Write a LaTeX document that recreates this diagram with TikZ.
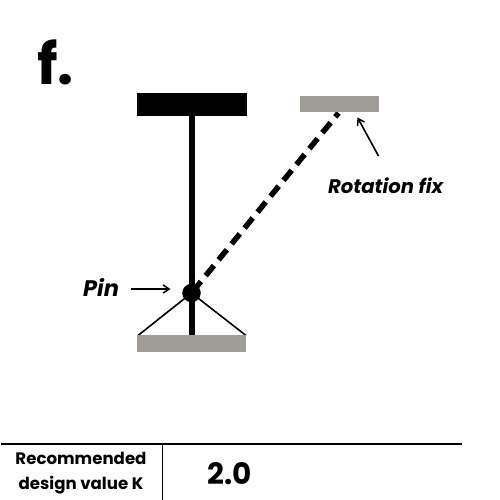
\documentclass[tikz,border=0pt]{standalone}
\usepackage{fontspec}
\setmainfont{Poppins}
\usetikzlibrary{arrows.meta}
\definecolor{supportgray}{HTML}{A09C98}
\tikzset{
  blockblack/.style={fill=black,draw=none},
  blockgray/.style={fill=supportgray,draw=none},
  thinarrow/.style={line width=1.6pt,-{Straight Barb[length=6pt,width=8pt,line width=1.5pt]}},
  rotstyle/.style={inner sep=0pt,font=\bfseries\itshape\fontsize{19.6}{22}\selectfont,text=black},
  pinstyle/.style={inner sep=0pt,font=\bfseries\itshape\fontsize{22.5}{24}\selectfont,text=black},
  tablerule/.style={line width=1.7pt},
  tablehead/.style={inner sep=0pt,align=center,font=\bfseries\fontsize{16.6}{24.5}\selectfont}
}
\begin{document}
\begin{tikzpicture}[x=1pt,y=-1pt]
\useasboundingbox (0,0) rectangle (500,500);
\fill[white] (0,0) rectangle (500,500);
\node[inner sep=0pt,anchor=base west,font=\bfseries\fontsize{57}{57}\selectfont] (title) at (37,85) {f.};
\coordinate (colTop) at (191.5,115);
\coordinate (colBot) at (191.5,335);
\coordinate (pin) at (191.5,293);
\coordinate (rotEnd) at (338.5,113);
\coordinate (legL) at (138,335.5);
\coordinate (legR) at (246,335.5);
\draw[line width=6pt] (colTop) -- (colBot);
\draw[line width=5.5pt,dash pattern=on 13pt off 7.5pt,dash phase=8pt] (rotEnd) -- (pin);
\draw[line width=1.6pt] (legL) -- (pin) -- (legR);
\fill[blockblack] (137,93.5) rectangle (246.5,115.8);
\fill[blockgray] (300,95.7) rectangle (379,112.4);
\fill[blockgray] (137,334.5) rectangle (246,351.5);
\node[circle,fill=black,inner sep=0pt,minimum size=18.5pt] (pinNode) at (pin) {};
\node[rotstyle,anchor=base west] (rotLabel) at (328,193) {Rotation fix};
\node[pinstyle,anchor=base west] (pinLabel) at (83,296) {Pin};
\coordinate (rotFrom) at (378.5,156);
\coordinate (rotTo) at (357.5,117.5);
\coordinate (pinFrom) at (130.5,289);
\coordinate (pinTo) at (170.5,289);
\draw[thinarrow] (rotFrom) -- (rotTo);
\draw[thinarrow] (pinFrom) -- (pinTo);
\coordinate (ruleL) at (1,444);
\coordinate (ruleR) at (461.5,444);
\coordinate (divTop) at (162.5,444);
\coordinate (divBot) at (162.5,500);
\draw[tablerule] (ruleL) -- (ruleR);
\draw[tablerule] (divTop) -- (divBot);
\node[tablehead,anchor=center] (head) at (81,473) {Recommended\\design value K};
\node[inner sep=0pt,anchor=base west,font=\bfseries\fontsize{29.5}{30}\selectfont] (val) at (207,484) {2.0};
\end{tikzpicture}
\end{document}
